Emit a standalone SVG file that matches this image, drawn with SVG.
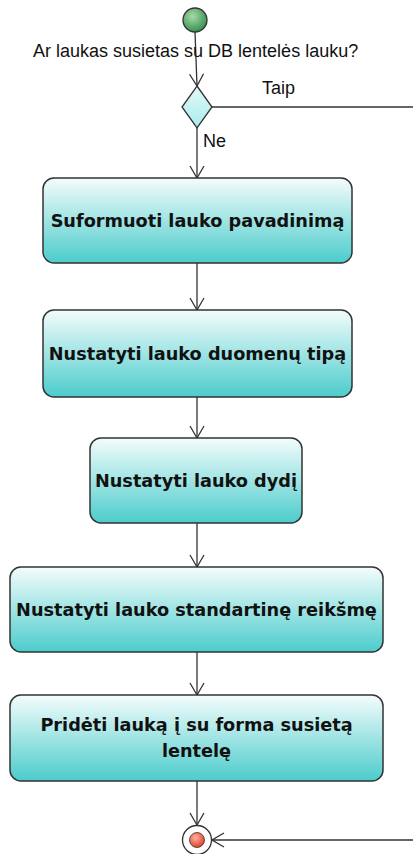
<svg xmlns="http://www.w3.org/2000/svg" width="413" height="854" viewBox="0 0 413 854">
  <defs>
    <linearGradient id="actFill" x1="0" y1="0" x2="0" y2="1">
      <stop offset="0" stop-color="#f4fcfc"/>
      <stop offset="1" stop-color="#4ccccc"/>
    </linearGradient>
    <linearGradient id="decFill" x1="0" y1="0" x2="0" y2="1">
      <stop offset="0" stop-color="#e4f8f8"/>
      <stop offset="1" stop-color="#a8ecec"/>
    </linearGradient>
    <radialGradient id="startFill" cx="0.4" cy="0.35" r="0.7">
      <stop offset="0" stop-color="#a8dba8"/>
      <stop offset="1" stop-color="#2e8b4a"/>
    </radialGradient>
    <radialGradient id="endFill" cx="0.4" cy="0.35" r="0.7">
      <stop offset="0" stop-color="#ffb0a0"/>
      <stop offset="1" stop-color="#e03a20"/>
    </radialGradient>
    <marker id="open" viewBox="0 0 14 16" refX="13" refY="8" markerWidth="14" markerHeight="16" markerUnits="userSpaceOnUse" orient="auto">
      <path d="M1,1 L13,8 L1,15" fill="none" stroke="#333" stroke-width="1.3"/>
    </marker>
  </defs>
  <style>
    .act { fill: url(#actFill); stroke: #333; stroke-width: 1.5; }
    .lbl { font-family: "DejaVu Sans", Verdana, sans-serif; font-weight: bold; font-size: 17.7px; fill: #111; text-anchor: middle; }
    .edge { fill: none; stroke: #333; stroke-width: 1.3; }
    .etxt { font-family: "Liberation Sans", Arial, sans-serif; font-size: 18px; fill: #111; }
  </style>

  <!-- connectors -->
  <g id="connectors">
    <path class="edge" d="M195,32 L197,86" marker-end="url(#open)"/>
    <path class="edge" d="M212,107 L413,107"/>
    <path class="edge" d="M197,128 L197,178" marker-end="url(#open)"/>
    <path class="edge" d="M197,263 L197,310" marker-end="url(#open)"/>
    <path class="edge" d="M197,397 L197,438" marker-end="url(#open)"/>
    <path class="edge" d="M197,523 L197,567" marker-end="url(#open)"/>
    <path class="edge" d="M197,652 L197,695" marker-end="url(#open)"/>
    <path class="edge" d="M197,781 L197,825" marker-end="url(#open)"/>
    <path class="edge" d="M413,840 L212,840" marker-end="url(#open)"/>
    <text class="etxt" x="33" y="57">Ar laukas susietas su DB lentelės lauku?</text>
    <text class="etxt" x="262" y="94">Taip</text>
    <text class="etxt" x="203" y="147">Ne</text>
  </g>

  <g id="start">
    <circle cx="195" cy="20" r="12" fill="url(#startFill)" stroke="#333" stroke-width="1.3"/>
  </g>

  <g id="decision">
    <polygon points="197,86 212,107 197,128 182,107" fill="url(#decFill)" stroke="#333" stroke-width="1.3"/>
  </g>

  <g id="suformuoti">
    <rect class="act" x="43" y="178" width="309" height="85" rx="11"/>
    <text class="lbl" x="197.5" y="227">Suformuoti lauko pavadinimą</text>
  </g>

  <g id="tipas">
    <rect class="act" x="43" y="310" width="309" height="87" rx="11"/>
    <text class="lbl" x="197.5" y="360">Nustatyti lauko duomenų tipą</text>
  </g>

  <g id="dydis">
    <rect class="act" x="90" y="438" width="212" height="85" rx="11"/>
    <text class="lbl" x="196" y="487">Nustatyti lauko dydį</text>
  </g>

  <g id="reiksme">
    <rect class="act" x="10" y="567" width="373" height="85" rx="11"/>
    <text class="lbl" x="196.5" y="616">Nustatyti lauko standartinę reikšmę</text>
  </g>

  <g id="prideti">
    <rect class="act" x="10" y="695" width="373" height="86" rx="11"/>
    <text class="lbl" x="196.5" y="731">Pridėti lauką į su forma susietą</text>
    <text class="lbl" x="196.5" y="757">lentelę</text>
  </g>

  <g id="end">
    <circle cx="197" cy="840" r="14.5" fill="#fff" stroke="#333" stroke-width="1.3"/>
    <circle cx="197" cy="840" r="7.5" fill="url(#endFill)" stroke="#333" stroke-width="0.8"/>
  </g>
</svg>
